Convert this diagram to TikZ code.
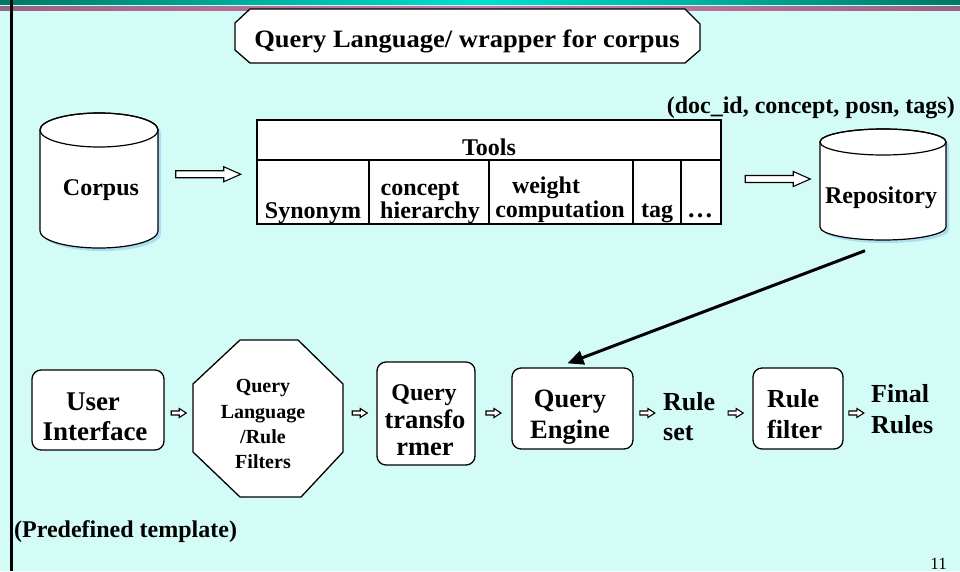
\documentclass[tikz,border=0pt]{standalone}
\usepackage{fontspec}
\setmainfont{Liberation Serif}
\usepackage{graphicx}
\usetikzlibrary{arrows.meta,calc}
\definecolor{bgc}{RGB}{212,252,247}
\definecolor{tealdark}{RGB}{0,120,100}
\definecolor{tealbright}{RGB}{0,224,208}
\definecolor{mauve}{RGB}{154,98,130}
\definecolor{pinkm}{RGB}{205,125,175}
\definecolor{shadowc}{RGB}{170,222,240}
\newcommand{\cylshape}[5]{%
 \fill[shadowc] ({#1-#2+3},{#3+3}) -- ({#1-#2+3},{#4+3}) arc[start angle=180,end angle=0,x radius=#2,y radius=#5] -- ({#1+#2+3},{#3+3}) arc[start angle=0,end angle=-180,x radius=#2,y radius=#5] -- cycle;
 \filldraw[fill=white, draw=black, line width=1.2pt] ({#1-#2},{#3}) -- ({#1-#2},{#4}) arc[start angle=180,end angle=0,x radius=#2,y radius=#5] -- ({#1+#2},{#3}) arc[start angle=0,end angle=-180,x radius=#2,y radius=#5] -- cycle;
 \draw[line width=1.2pt] (#1,#3) ellipse[x radius=#2, y radius=#5];}
\newcommand{\harrowc}[5]{%
 \draw[hollow] ($(#1)+(-#2,-#3)$) -- ($(#1)+(#2-#5,-#3)$) -- ($(#1)+(#2-#5,-#4)$) -- ($(#1)+(#2,0)$) -- ($(#1)+(#2-#5,#4)$) -- ($(#1)+(#2-#5,#3)$) -- ($(#1)+(-#2,#3)$) -- cycle;}
\newcommand{\smallconn}[3]{%
 \coordinate (#3m) at ($(#1)!0.5!(#2)$);
 \coordinate (#3) at (#3m |- rowy);
 \harrowc{#3}{7.5}{2}{4.5}{7}}
\begin{document}
\begin{tikzpicture}[x=1pt,y=-1pt,
  lbl/.style={font=\bfseries\fontsize{#1}{#1}\selectfont, inner sep=0pt, anchor=base},
  hollow/.style={draw=black, line width=1.1pt, fill=white, line join=miter},
  boxr/.style={draw=black, line width=1.3pt, fill=white, rounded corners=9pt, inner sep=0pt},
  ghost/.style={inner sep=0pt},
  outline/.style={draw=black, line width=1.3pt}]
\useasboundingbox (0,0) rectangle (960,571);
\fill[bgc] (0,0) rectangle (960,571);
\shade[left color=tealdark, right color=tealdark, middle color=tealbright] (0,0) rectangle (960,4.5);
\shade[left color=mauve, right color=mauve, middle color=pinkm] (0,6) rectangle (960,10.5);
\fill[black] (10,0) rectangle (12.5,571);
% title
\draw[outline, fill=white] (250,9) -- (685,9) -- (700,24) -- (700,50) -- (685,63) -- (250,63) -- (235,50) -- (235,23) -- cycle;
\node[lbl=25] (title) at (467,47) {\scalebox{1.06}[1]{Query Language/ wrapper for corpus}};
% cylinders
\cylshape{99}{59}{130}{231}{17}
\cylshape{883}{63}{142}{227}{13}
\node[ghost, minimum width=118, minimum height=135] (corpus) at (99,180.5) {};
\node[ghost, minimum width=126, minimum height=111] (repo) at (883,185) {};
\node[lbl=24] (corpus-t) at (101,195) {Corpus};
\node[lbl=24] (repo-t) at (881,203) {Repository};
\node[lbl=24, anchor=base east] (tuple) at (955,113) {(doc\_id, concept, posn, tags)};
% tools table
\node[draw, line width=1.5pt, fill=white, minimum width=464, minimum height=104, inner sep=0pt] (tools) at (489,172) {};
\draw[line width=1.5pt] (257,160) -- (721,160);
\foreach \xx in {369,489,633,681} \draw[line width=1.5pt] (\xx,160) -- (\xx,224);
\node[lbl=24] (tools-t) at (489,155) {Tools};
\node[lbl=24] (syn) at (313,218) {Synonym};
\node[lbl=24] (conc) at (420,195) {concept};
\node[lbl=24] (hier) at (430,218) {hierarchy};
\node[lbl=24] (wei) at (546,193) {weight};
\node[lbl=24] (comp) at (560,217) {computation};
\node[lbl=24] (tag) at (657,217) {tag};
\node[lbl=26] (dots) at (700,217) {…};
% big hollow arrows
\coordinate (a1) at ($(corpus.east)!0.5!(tools.west)+(1,-2)$);
\harrowc{a1}{32.5}{3.5}{7.5}{17}
\coordinate (a2) at ($(tools.east)!0.5!(repo.west)+(7,0.5)$);
\harrowc{a2}{32.5}{3.5}{7.5}{17}
% bottom row
\coordinate (rowy) at (0,413);
\node[boxr, minimum width=132, minimum height=80] (ui) at (98,410) {};
\node[lbl=27] (ui-a) at (93,410) {User};
\node[lbl=27] (ui-b) at (95,440) {Interface};
\draw[outline, fill=white] (240,340) -- (298,340) -- (343,384) -- (343,452) -- (301,497) -- (240,497) -- (193,452) -- (193,384) -- cycle;
\node[ghost, minimum width=150, minimum height=157] (oct) at (268,418.5) {};
\node[lbl=20] (oct-a) at (263,392) {Query};
\node[lbl=20] (oct-b) at (263,418) {Language};
\node[lbl=20] (oct-c) at (263,443) {/Rule};
\node[lbl=20] (oct-d) at (263,468) {Filters};
\node[boxr, minimum width=98, minimum height=103] (qt) at (426,413.5) {};
\node[lbl=24] (qt-a) at (424,400) {Query};
\node[lbl=26.5] (qt-b) at (425,428) {transfo};
\node[lbl=26.5] (qt-c) at (425,455) {rmer};
\node[boxr, minimum width=121, minimum height=81] (qe) at (572.5,408.5) {};
\node[lbl=26.5] (qe-a) at (570,407) {Query};
\node[lbl=26.5] (qe-b) at (570,438) {Engine};
\node[lbl=26, anchor=base west] (rs-a) at (663,410) {Rule};
\node[lbl=26, anchor=base west] (rs-b) at (663,440) {set};
\coordinate (rsw) at (661,413);
\coordinate (rse) at (719,413);
\node[boxr, minimum width=90, minimum height=81] (rf) at (798,408.5) {};
\node[lbl=26, anchor=base west] (rf-a) at (767,407) {Rule};
\node[lbl=26, anchor=base west] (rf-b) at (767,438) {filter};
\node[lbl=26, anchor=base west] (fr-a) at (871,402) {Final};
\node[lbl=26, anchor=base west] (fr-b) at (871,433) {Rules};
\coordinate (frw) at (869,413);
\smallconn{ui.east}{oct.west}{s1}
\smallconn{oct.east}{qt.west}{s2}
\smallconn{qt.east}{qe.west}{s3}
\smallconn{qe.east}{rsw}{s4}
\smallconn{rse}{rf.west}{s5}
\smallconn{rf.east}{frw}{s6}
% repository to query engine
\draw[line width=3pt, -{Triangle[length=16pt,width=14pt]}] ($(repo.south)+(-18,10)$) -- ($(qe.north)+(-5,-4)$);
\node[lbl=24, anchor=base west] (pre) at (14,537) {(Predefined template)};
\node[font=\fontsize{17}{17}\selectfont, inner sep=0pt, anchor=base east] (pageno) at (947,569) {11};
\end{tikzpicture}
\end{document}
